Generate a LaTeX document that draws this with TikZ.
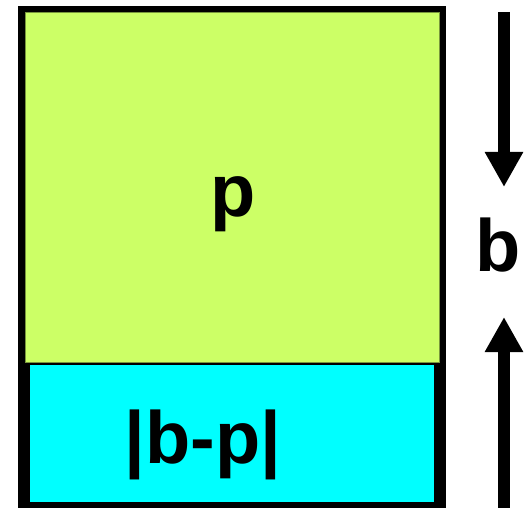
\documentclass[tikz,border=0pt]{standalone}
\usepackage{fontspec}
\setmainfont{Liberation Sans}
\usetikzlibrary{arrows.meta}
\definecolor{pgreen}{RGB}{204,255,102}
\definecolor{pedge}{RGB}{120,150,60}
\definecolor{pcyan}{RGB}{0,255,255}
\tikzset{
  box/.style={rectangle, inner sep=0pt, outer sep=0pt},
  lbl/.style={inner sep=0pt, anchor=base, font=\fontsize{74}{80}\selectfont\bfseries},
  bigarrow/.style={line width=12pt, -{Triangle[width=36pt,length=35pt]}}
}
\begin{document}
\begin{tikzpicture}[x=1pt,y=-1pt]
\useasboundingbox (0,0) rectangle (528,508);
\node[box, fill=black, minimum width=428pt, minimum height=502pt] (frame) at (232,257) {};
\node[box, fill=pgreen, draw=pedge, line width=1pt, minimum width=414pt, minimum height=349pt] (pbox) at (232,187.5) {};
\node[box, fill=pcyan, minimum width=404pt, minimum height=137pt] (bpbox) at (232,433.5) {};
\node[lbl] (ptext) at (233,217) {p};
\node[lbl] (bptext) at (203,463) {|b-p|};
\node[lbl] (btext) at (498,272) {b};
\coordinate (topstart) at (504,12);
\coordinate (toptip) at (504,187);
\coordinate (botstart) at (504,508);
\coordinate (bottip) at (504,317);
\draw[bigarrow] (topstart) -- (toptip);
\draw[bigarrow] (botstart) -- (bottip);
\end{tikzpicture}
\end{document}
